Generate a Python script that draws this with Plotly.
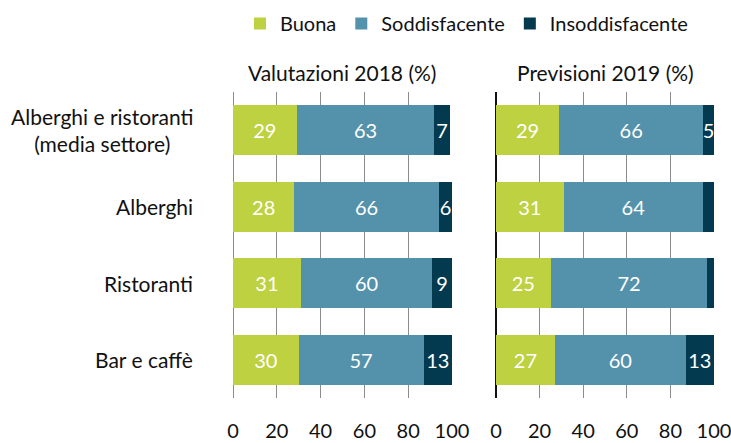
import plotly.graph_objects as go

categories = ["Alberghi e ristoranti<br>(media settore)", "Alberghi", "Ristoranti", "Bar e caffè"]
series_names = ["Buona", "Soddisfacente", "Insoddisfacente"]
colors = ["#bed141", "#5491aa", "#033a4f"]

val2018_buona = [29, 28, 31, 30]
val2018_sodd = [63, 66, 60, 57]
val2018_insodd = [7, 6, 9, 13]

prev2019_buona = [29, 31, 25, 27]
prev2019_sodd = [66, 64, 72, 60]
prev2019_insodd = [5, 5, 3, 13]

# labels shown in the original (small segments unlabeled)
prev2019_insodd_labels = ["5", "", "", "13"]

panel_titles = ["Valutazioni 2018 (%)", "Previsioni 2019 (%)"]
x_ticks = [0, 20, 40, 60, 80, 100]

W, H = 731, 443
FONT = "Lato"

def px(x):
    return x / W

def py(y):
    return 1 - y / H

fig = go.Figure()

data2018 = [val2018_buona, val2018_sodd, val2018_insodd]
data2019 = [prev2019_buona, prev2019_sodd, prev2019_insodd]
labels2019 = [[str(v) for v in prev2019_buona], [str(v) for v in prev2019_sodd], prev2019_insodd_labels]

ycats = list(range(len(categories)))

for i, name in enumerate(series_names):
    fig.add_trace(go.Bar(
        y=ycats, x=data2018[i], orientation="h", name=name,
        marker=dict(color=colors[i], line=dict(width=0)),
        text=[str(v) for v in data2018[i]], textposition="inside",
        insidetextanchor="middle", textangle=0,
        textfont=dict(color="white", size=20, family=FONT),
        xaxis="x", yaxis="y", width=0.65, showlegend=True,
    ))
for i, name in enumerate(series_names):
    fig.add_trace(go.Bar(
        y=ycats, x=data2019[i], orientation="h", name=name,
        marker=dict(color=colors[i], line=dict(width=0)),
        text=labels2019[i], textposition="inside",
        insidetextanchor="middle", textangle=0,
        textfont=dict(color="white", size=20, family=FONT),
        xaxis="x2", yaxis="y2", width=0.65, showlegend=False,
    ))

xcommon = dict(range=[0, 100], tickvals=x_ticks, showgrid=True, gridcolor="#8c8c8c",
               gridwidth=1, ticks="", tickfont=dict(size=20, family=FONT, color="#111"),
               ticklabelstandoff=19, ticklabeloverflow="allow", showline=False,
               fixedrange=True, automargin=False)
ycommon = dict(range=[3.5, -0.5], showticklabels=False, showgrid=False, zeroline=False,
               domain=[py(398), py(92)], fixedrange=True, automargin=False)

fig.update_layout(
    width=W, height=H,
    margin=dict(l=0, r=0, t=0, b=0, autoexpand=False),
    paper_bgcolor="white", plot_bgcolor="white",
    barmode="stack",
    font=dict(family=FONT, size=20, color="#111"),
    xaxis=dict(domain=[px(233), px(452)], anchor="y", zeroline=True, zerolinecolor="#8c8c8c",
               zerolinewidth=1, **xcommon),
    xaxis2=dict(domain=[px(496), px(714)], anchor="y2", zeroline=True, zerolinecolor="#111",
                zerolinewidth=2, **xcommon),
    yaxis=dict(anchor="x", **ycommon),
    yaxis2=dict(anchor="x2", **ycommon),
    legend=dict(orientation="h", x=px(240), y=py(4), xanchor="left", yanchor="top",
                font=dict(size=20, family=FONT), traceorder="normal",
                bgcolor="rgba(0,0,0,0)"),
    uniformtext=dict(mode="show", minsize=20),
)

annotations = []
annotations.append(dict(text=panel_titles[0], x=px(342), y=py(72), xref="paper", yref="paper",
                        showarrow=False, xanchor="center", yanchor="middle", font=dict(size=21)))
annotations.append(dict(text=panel_titles[1], x=px(605), y=py(72), xref="paper", yref="paper",
                        showarrow=False, xanchor="center", yanchor="middle", font=dict(size=21)))
for i, c in enumerate(categories):
    annotations.append(dict(text=c, x=px(195), y=i, xref="paper", yref="y", showarrow=False,
                            xanchor="right", yanchor="middle", align="center", font=dict(size=21)))
fig.update_layout(annotations=annotations)

fig.write_html("out.html", config={"displayModeBar": False},
               post_script="document.body.style.margin='0';document.body.style.overflow='hidden';")
